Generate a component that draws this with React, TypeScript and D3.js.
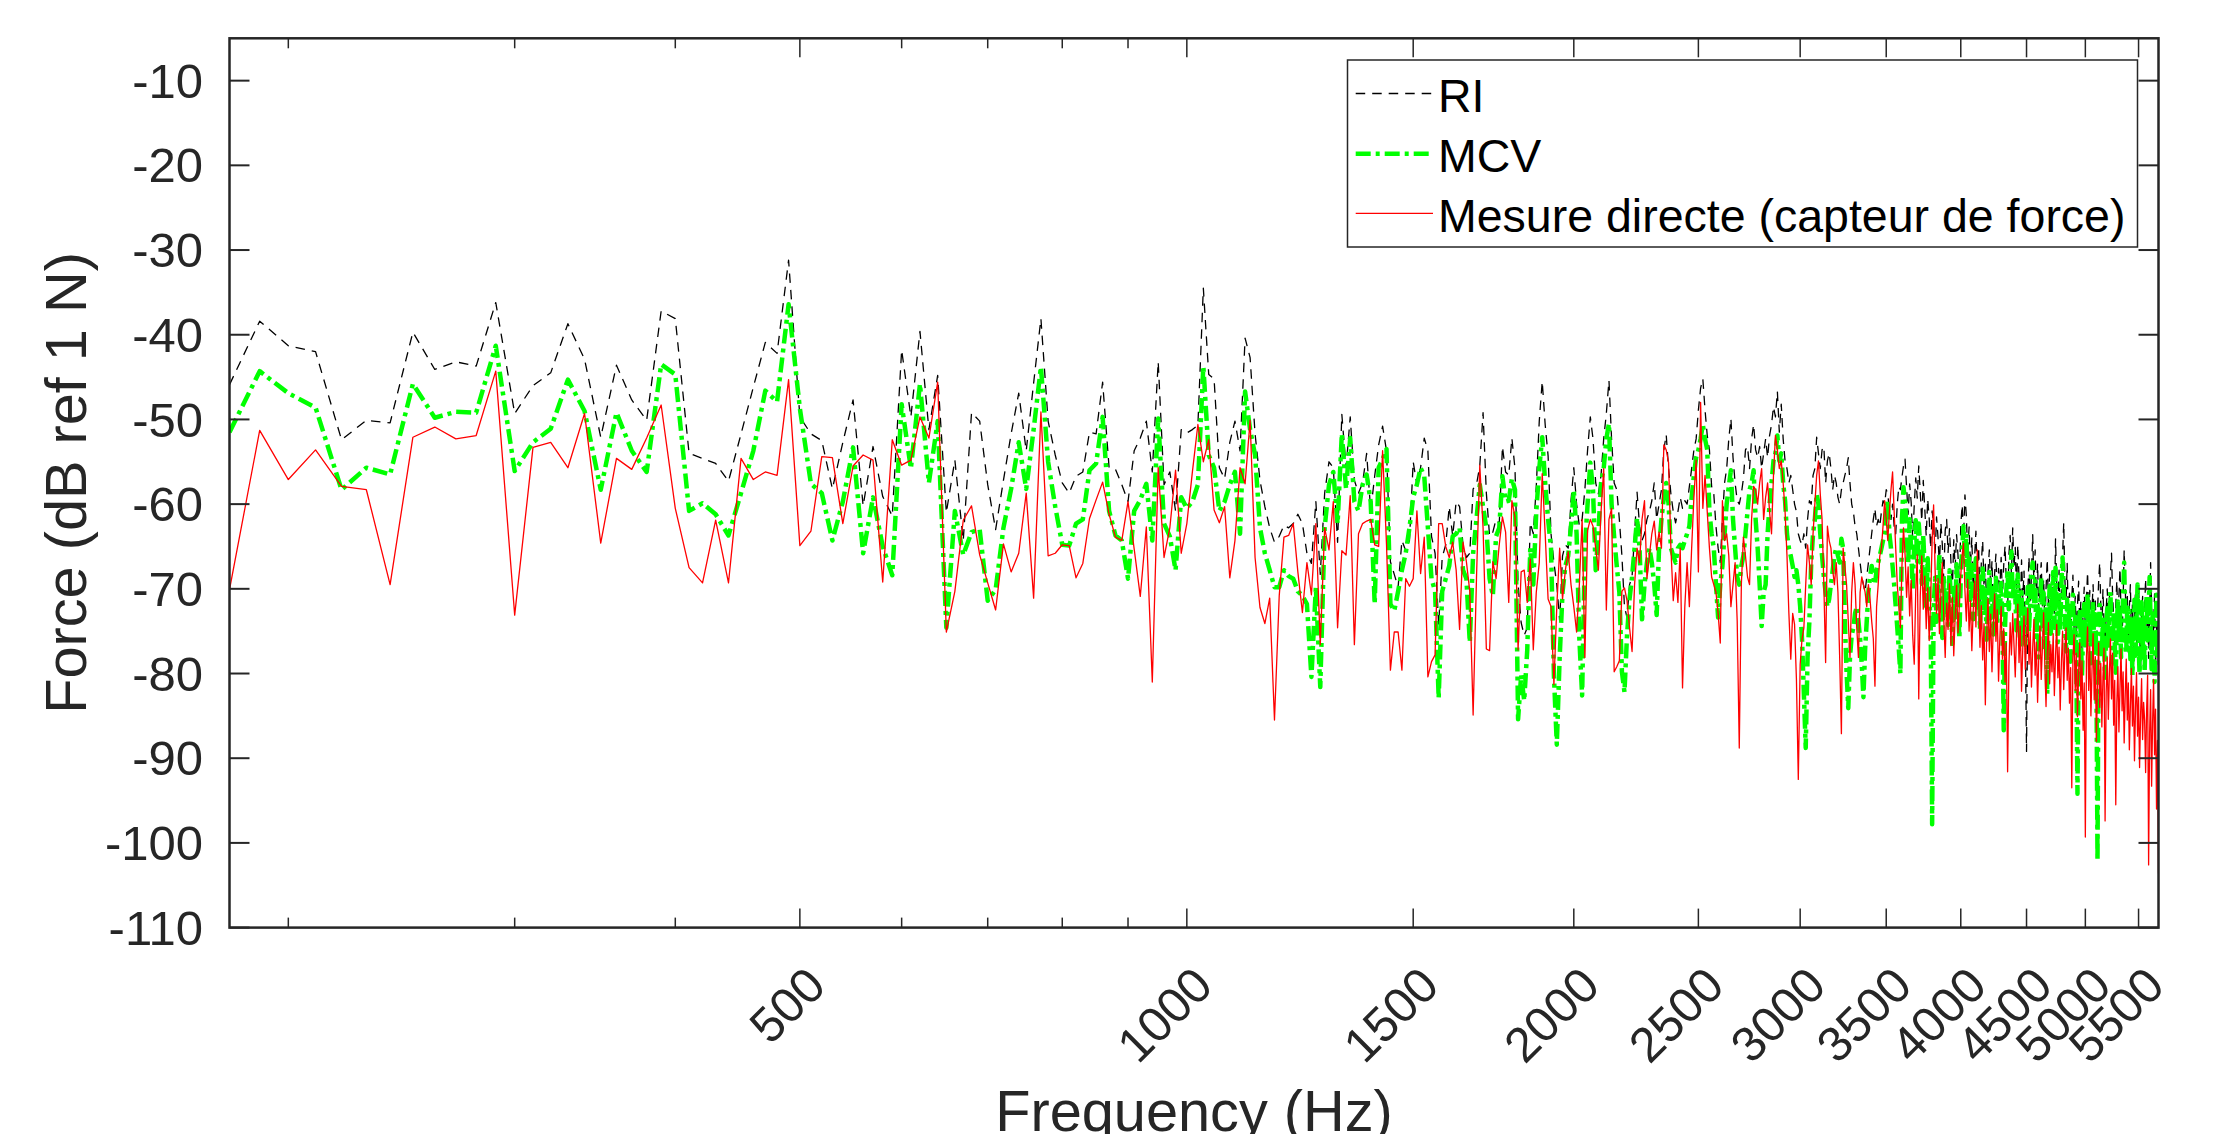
import React, { useEffect } from 'react';
import * as d3 from 'd3';

const W = 2223;
const H = 1134;

// Frequency grid (Hz): first sample and spacing of the spectra
const FREQ_START = 180;
const FREQ_STEP = 10;

// RI (black dashed), dB ref 1 N
const RI = [
  -45.9, -38.4, -41.3, -42.0, -52.4, -50.1, -50.4, -39.7, -44.1, -43.2,
  -43.7, -36.2, -49.3, -46.0, -44.5, -38.7, -42.9, -52.1, -43.6, -47.7,
  -50.1, -37.2, -38.1, -54.0, -54.6, -55.2, -57.3, -51.7, -46.2, -40.9,
  -42.2, -31.2, -49.7, -51.7, -52.5, -58.2, -52.7, -47.7, -60.2, -53.2,
  -59.1, -61.4, -41.8, -49.7, -39.6, -51.2, -44.8, -61.0, -54.8, -64.3,
  -49.2, -50.2, -57.7, -63.0, -57.2, -51.7, -46.9, -53.7, -45.7, -38.1,
  -50.2, -54.2, -57.5, -58.7, -56.7, -56.2, -51.5, -51.7, -45.6, -55.7,
  -55.9, -57.7, -59.7, -53.7, -52.2, -50.2, -56.2, -43.2,
  -57.7, -56.2, -60.8, -51.2, -51.6, -51.2, -50.7, -34.5, -44.7, -45.2,
  -55.7, -57.0, -52.7, -50.2, -53.7, -40.4, -42.7, -51.7, -57.2, -60.3,
  -62.8, -64.5, -63.8, -62.5, -62.8, -62.3, -61.2, -62.3, -65.8, -67.0,
  -59.7, -68.3, -58.7, -55.0, -55.7, -64.5, -49.4, -55.7, -49.7, -57.2,
  -58.7, -57.5, -54.0, -60.8, -56.7, -53.0, -50.8, -53.7, -66.8, -68.3,
  -69.8, -64.3, -65.5, -64.3, -55.0, -57.7, -55.7, -52.2, -53.7, -63.8,
  -65.8, -74.3, -66.3, -64.8, -60.3, -63.8, -59.7, -60.3, -64.8, -66.3,
  -65.8, -58.2, -57.7, -55.5, -49.2, -58.7, -63.8, -63.3, -61.8, -62.3,
  -53.2, -56.2,
  -56.6, -52.2, -55.8, -69.5, -74.0, -75.5, -74.6, -62.2, -63.5, -57.9,
  -50.2, -45.5, -50.6, -54.3, -63.5, -66.9, -69.5, -73.8, -66.1, -64.8,
  -65.2, -59.6, -55.7, -60.0, -62.6, -61.8, -58.3, -53.6, -49.7, -52.3,
  -57.5, -58.8, -56.6, -52.3, -49.3, -45.4, -52.3, -57.5, -58.3, -61.8,
  -66.1, -72.1, -73.4, -69.5, -68.6, -63.5, -58.6, -62.6, -64.3, -63.5,
  -61.8, -60.9, -59.6, -57.5, -61.8, -60.0, -58.3, -53.6, -51.8, -55.8,
  -58.8, -60.9, -62.2, -60.9, -59.2, -60.5, -59.6, -60.0, -57.9, -55.8,
  -53.6, -52.3, -48.9, -46.3, -45.2,
  -48.9, -51.9, -53.6, -57.9, -58.8, -62.6, -65.2, -66.9, -61.8, -57.5,
  -55.8, -52.3, -49.9, -54.5, -57.5, -59.6, -60.0, -58.8, -57.0, -53.6,
  -53.2, -55.8, -52.3, -50.6, -53.6, -54.5, -53.2, -55.8, -54.0, -52.3,
  -54.5, -51.9, -50.6, -48.5, -49.7, -46.7, -51.5, -48.2, -52.3, -54.9,
  -55.8, -57.5, -56.6, -58.3, -60.0, -60.9, -63.5, -64.3, -64.8, -63.5,
  -65.2, -61.8, -59.6, -60.0, -56.6, -55.8, -52.1, -54.0, -55.8, -53.6,
  -53.2, -57.5, -54.9, -54.0, -55.8, -58.3, -56.6, -57.5, -59.2, -60.0,
  -58.3, -57.5, -56.6, -55.8, -54.5, -57.5, -60.0, -60.9, -62.6, -63.5,
  -65.2, -66.9, -68.6, -69.5, -70.4, -68.6, -66.9, -65.2, -63.5, -61.8,
  -60.5, -62.6, -61.8, -62.6, -60.9, -59.6, -60.0, -58.3, -58.8, -60.9,
  -61.8, -60.0, -62.6, -63.5, -60.0, -57.9, -58.3, -56.8,
  -55.5, -54.7, -58.0, -61.2, -57.6, -59.8, -64.1, -60.2, -56.9, -59.3,
  -55.5, -58.6, -62.0, -57.2, -60.5, -63.8, -59.4, -61.7, -65.2, -60.8,
  -62.4, -66.1, -61.5, -63.9, -67.4, -62.2, -64.8, -68.9, -63.1, -61.8,
  -65.7, -62.9, -66.8, -70.3, -64.2, -67.5, -63.6, -66.0, -69.4, -62.5,
  -60.1, -63.8, -58.9, -61.4, -65.9, -62.7, -67.3, -64.0, -70.2, -66.4,
  -63.2, -68.5, -65.1, -71.6, -66.9, -64.3, -69.8, -67.1, -72.4, -68.0,
  -65.4, -70.1, -66.7, -73.0, -68.2, -65.9, -71.4, -67.6, -69.9, -66.3,
  -70.8, -67.2, -64.9, -69.3, -72.6, -66.0, -63.7, -68.4, -62.8, -67.5,
  -65.1, -70.4, -64.8, -68.7, -73.1, -66.6, -71.0, -67.9, -75.3, -89.2,
  -70.6, -66.2, -72.8, -68.1, -63.6, -69.7, -65.4, -71.3, -67.0, -73.5,
  -69.2, -66.9, -72.1, -68.8, -74.6, -70.0, -66.5, -71.9, -68.3, -75.0,
  -70.7, -67.4, -73.3, -64.1, -69.6, -72.5, -67.8, -74.1, -70.3, -66.2,
  -62.2, -68.9, -71.8, -67.0, -73.9, -70.5, -76.2, -71.1, -68.4, -74.7,
  -70.9, -75.8, -72.0, -69.1, -74.4, -71.5, -77.3, -72.6, -69.8, -75.1,
  -71.2, -68.0, -73.6, -70.2, -76.4, -72.3, -69.5, -74.8, -71.0, -77.6,
  -72.7, -69.3, -66.9, -71.8, -75.2, -70.1, -73.9, -78.4, -72.5, -70.0,
  -74.6, -71.3, -68.2, -65.8, -70.7, -73.4, -76.8, -71.9, -69.0, -74.2,
  -70.8, -67.6, -72.9, -76.1, -71.4, -65.4, -69.7, -74.0, -70.5, -77.5,
  -72.2, -69.5, -75.6, -71.7, -78.9, -73.0, -70.3, -76.7, -72.8, -69.5,
  -74.3, -79.6, -73.5, -70.9, -77.1, -72.4, -68.8, -75.9, -71.3, -78.2,
  -73.1, -66.9, -72.0, -77.8, -74.5, -70.6, -79.3, -75.0, -72.7, -80.4,
];

// MCV (green dash-dot), dB ref 1 N
const MCV = [
  -51.5, -44.3, -46.9, -48.6, -58.3, -55.7, -56.5, -45.8, -49.8, -49.1,
  -49.2, -41.3, -56.1, -52.7, -51.1, -45.3, -49.0, -58.3, -49.2, -53.7,
  -56.2, -43.5, -44.7, -60.8, -59.9, -61.2, -63.7, -58.7, -53.7, -46.6,
  -47.9, -36.4, -48.7, -57.6, -58.7, -64.3, -59.7, -53.3, -65.8, -59.2,
  -65.0, -68.4, -48.2, -55.8, -45.8, -57.5, -50.2, -74.6, -60.8, -66.0,
  -63.3, -63.0, -71.4, -70.1, -62.8, -58.2, -52.7, -58.2, -51.2, -43.8,
  -55.0, -60.3, -64.8, -64.9, -62.3, -61.8, -56.0, -55.2, -49.7, -60.8,
  -63.7, -64.3, -68.8, -60.8, -59.5, -57.6, -64.3, -49.9,
  -62.3, -63.8, -67.8, -59.2, -60.5, -59.7, -57.7, -43.7, -54.2, -55.7,
  -60.8, -59.7, -57.7, -56.2, -63.5, -46.7, -51.2, -54.2, -62.8, -65.8,
  -67.8, -69.8, -69.8, -67.8, -68.5, -68.8, -70.3, -70.8, -71.8, -80.4,
  -69.8, -81.6, -62.8, -57.7, -56.2, -62.3, -51.7, -58.2, -52.2, -59.7,
  -60.8, -57.7, -56.5, -59.7, -71.8, -55.7, -54.7, -53.5, -71.8, -72.6,
  -70.3, -67.8, -65.8, -62.8, -59.2, -57.7, -55.7, -56.7, -62.8, -68.8,
  -70.3, -82.9, -70.3, -68.8, -67.3, -63.8, -63.5, -62.8, -67.8, -68.8,
  -76.3, -65.8, -61.8, -57.7, -60.3, -62.8, -68.8, -70.8, -63.8, -62.8,
  -56.7, -59.7,
  -59.6, -57.0, -58.3, -85.4, -80.2, -83.2, -77.2, -65.2, -69.5, -60.9,
  -55.8, -52.1, -57.5, -61.8, -65.2, -80.2, -88.4, -78.1, -70.4, -67.3,
  -66.1, -62.6, -58.3, -63.5, -75.9, -82.6, -65.2, -60.0, -55.1, -58.3,
  -67.8, -63.5, -57.5, -55.8, -52.3, -50.5, -60.0, -63.9, -67.3, -70.4,
  -79.8, -82.2, -75.5, -71.2, -68.6, -65.2, -61.6, -65.2, -73.6, -69.5,
  -66.9, -65.2, -66.9, -69.5, -73.1, -65.2, -61.8, -59.2, -57.5, -60.0,
  -65.2, -66.1, -66.9, -65.2, -64.8, -65.2, -64.3, -63.5, -62.6, -59.2,
  -56.6, -54.5, -53.6, -52.3, -50.6,
  -52.3, -53.6, -60.9, -63.5, -65.2, -69.5, -73.4, -69.5, -67.3, -63.5,
  -60.0, -57.9, -56.0, -61.8, -65.2, -68.6, -69.5, -67.3, -66.1, -63.5,
  -60.9, -58.3, -57.5, -56.0, -61.8, -65.2, -69.5, -74.4, -70.4, -69.5,
  -63.5, -60.0, -57.5, -54.9, -54.0, -51.9, -54.9, -54.0, -57.5, -59.6,
  -63.5, -65.2, -66.1, -67.3, -68.6, -67.8, -69.5, -72.1, -75.9, -82.4,
  -88.8, -78.1, -73.8, -66.9, -63.5, -61.8, -58.8, -60.0, -63.5, -66.1,
  -68.6, -70.4, -72.1, -71.2, -69.5, -67.8, -66.1, -65.2, -66.1, -66.9,
  -64.1, -65.2, -73.8, -79.8, -84.1, -78.1, -75.5, -74.6, -72.9, -72.1,
  -73.8, -75.9, -79.0, -82.8, -77.2, -73.8, -70.4, -68.6, -67.3, -68.6,
  -69.5, -67.8, -66.9, -66.1, -65.2, -64.3, -63.5, -60.9, -59.6, -63.5,
  -65.2, -67.3, -69.5, -72.1, -74.6, -77.2, -80.0, -61.8,
  -58.0, -59.6, -63.4, -67.1, -61.8, -65.5, -70.2, -64.7, -61.9, -66.8,
  -62.3, -64.9, -69.4, -63.6, -67.9, -72.1, -66.4, -70.8, -74.0, -97.8,
  -72.5, -68.7, -73.9, -69.2, -66.0, -71.6, -75.8, -68.4, -72.7, -70.1,
  -74.3, -67.8, -71.2, -76.5, -69.9, -73.4, -67.1, -72.0, -75.9, -68.6,
  -65.4, -62.6, -66.8, -63.5, -69.7, -65.9, -71.3, -67.2, -73.6, -69.0,
  -66.4, -72.2, -68.5, -74.8, -70.3, -67.6, -73.1, -69.8, -76.0, -71.4,
  -68.0, -73.5, -69.9, -75.4, -71.1, -68.7, -74.2, -70.6, -72.8, -69.3,
  -73.7, -86.7, -74.5, -70.2, -67.8, -72.4, -69.0, -65.6, -71.3, -68.9,
  -70.7, -74.9, -68.3, -72.6, -77.0, -70.4, -74.8, -71.9, -76.6, -73.2,
  -69.8, -75.1, -71.4, -68.0, -66.9, -72.3, -69.1, -75.7, -71.6, -78.1,
  -73.0, -68.6, -74.4, -70.5, -76.9, -72.1, -82.4, -73.8, -69.7, -75.3,
  -71.0, -68.0, -74.6, -67.5, -72.2, -76.3, -70.8, -74.9, -69.4, -66.3,
  -70.2, -73.9, -77.4, -71.3, -75.8, -72.0, -78.6, -74.1, -70.7, -76.2,
  -73.3, -79.1, -94.2, -77.5, -72.4, -75.9, -80.3, -74.6, -71.8, -77.0,
  -73.9, -70.6, -76.4, -72.7, -78.8, -74.3, -71.5, -77.2, -73.0, -79.4,
  -102.1, -75.6, -71.9, -74.5, -78.0, -73.2, -76.7, -80.5, -74.8, -72.3,
  -77.1, -73.6, -70.4, -75.0, -78.7, -72.8, -76.3, -79.9, -74.2, -71.5,
  -76.0, -72.5, -78.1, -74.7, -70.9, -66.9, -73.4, -77.6, -71.7, -75.9,
  -72.6, -78.3, -74.0, -80.2, -75.5, -71.3, -77.9, -73.7, -69.5, -76.4,
  -80.0, -74.9, -71.6, -77.7, -73.4, -79.8, -75.2, -70.8, -76.1, -72.7,
  -68.6, -74.1, -79.5, -72.9, -77.3, -81.0, -74.6, -70.7, -78.2, -75.0,
];

// Mesure directe (red solid), dB ref 1 N
const MESURE = [
  -70.1, -51.3, -57.1, -53.6, -57.9, -58.3, -69.5, -52.1, -50.9, -52.3,
  -51.9, -44.3, -73.1, -53.3, -52.7, -55.7, -49.3, -64.6, -54.6, -55.9,
  -52.2, -48.3, -60.5, -67.5, -69.3, -61.9, -69.3, -54.6, -57.1, -56.2,
  -56.6, -45.3, -64.9, -63.2, -54.4, -54.5, -62.3, -55.5, -54.2, -54.8,
  -69.2, -52.4, -55.4, -54.8, -49.7, -52.2, -45.6, -75.1, -70.3, -61.9,
  -60.2, -66.0, -69.3, -72.5, -64.7, -68.0, -65.8, -58.7, -71.1, -49.1,
  -66.1, -65.8, -64.8, -64.9, -68.7, -67.0, -61.7, -59.5, -57.4, -61.2,
  -63.9, -64.3, -59.7, -65.3, -70.9, -62.7, -81.0, -55.7,
  -66.3, -62.8, -56.0, -65.8, -62.3, -56.2, -50.6, -55.0, -52.4, -60.7,
  -62.2, -60.3, -68.7, -64.3, -55.7, -57.6, -50.1, -66.3, -72.2, -74.1,
  -71.1, -85.5, -70.8, -63.9, -63.7, -62.3, -68.0, -72.8, -66.9, -70.7,
  -62.3, -76.6, -62.8, -65.4, -59.7, -74.6, -65.5, -66.0, -59.0, -76.6,
  -63.5, -62.3, -62.0, -61.8, -64.8, -65.0, -53.7, -64.8, -79.6, -75.1,
  -75.1, -79.6, -68.8, -69.7, -68.8, -60.8, -68.2, -63.9, -80.4, -78.6,
  -77.8, -62.3, -62.3, -65.0, -66.3, -64.5, -67.8, -74.8, -64.5, -66.8,
  -70.3, -84.9, -68.8, -55.4, -62.8, -77.1, -77.3, -66.8, -68.8, -64.8,
  -61.5, -63.3,
  -71.6, -59.6, -61.5, -77.2, -68.0, -67.8, -71.6, -66.5, -77.2, -70.4,
  -66.9, -56.4, -63.5, -71.2, -72.1, -81.3, -72.1, -65.2, -71.2, -67.8,
  -65.6, -69.5, -72.1, -75.1, -69.5, -61.8, -78.1, -63.1, -61.8, -62.6,
  -65.2, -67.8, -60.9, -55.8, -72.5, -61.8, -60.5, -79.8, -79.2, -78.5,
  -70.3, -69.9, -71.4, -74.6, -77.4, -69.5, -65.2, -66.9, -61.8, -59.6,
  -68.8, -66.1, -63.5, -62.0, -65.4, -63.3, -65.2, -53.0, -53.6, -55.1,
  -65.2, -71.4, -68.1, -71.6, -65.2, -81.7, -72.1, -66.9, -72.1, -65.2,
  -59.2, -54.8, -68.0, -48.0, -60.5,
  -56.6, -60.9, -65.2, -68.6, -69.5, -70.4, -72.9, -76.4, -59.6, -64.3,
  -63.5, -66.1, -72.1, -69.5, -66.9, -73.8, -88.8, -69.5, -63.9, -66.1,
  -68.6, -69.5, -61.8, -57.9, -58.3, -60.0, -57.5, -55.8, -61.8, -59.2,
  -57.5, -60.9, -63.5, -56.6, -51.9, -53.6, -55.8, -54.9, -57.5, -60.9,
  -66.1, -72.9, -78.3, -72.9, -74.2, -80.7, -92.5, -78.9, -75.9, -74.6,
  -69.5, -64.8, -66.9, -69.5, -63.5, -60.0, -56.6, -54.9, -58.8, -61.8,
  -69.5, -78.7, -62.6, -64.3, -65.2, -67.8, -69.5, -66.9, -70.4, -78.1,
  -87.1, -65.2, -67.3, -69.5, -73.8, -78.1, -70.4, -66.9, -69.5, -74.6,
  -78.1, -70.4, -68.6, -69.5, -70.4, -72.1, -69.5, -71.2, -73.8, -75.9,
  -81.5, -72.1, -69.5, -66.1, -65.2, -62.6, -59.6, -61.8, -64.3, -60.9,
  -58.3, -56.2, -60.9, -65.2, -69.5, -72.1, -74.6, -67.3,
  -62.8, -65.9, -71.0, -67.4, -73.2, -69.0, -75.5, -78.9, -70.3, -66.0,
  -83.0, -70.8, -66.1, -72.4, -68.5, -74.7, -69.9, -76.1, -71.2, -64.3,
  -60.1, -67.6, -72.9, -68.8, -75.3, -70.5, -66.9, -73.6, -78.1, -71.7,
  -74.8, -69.4, -76.7, -71.0, -77.9, -73.3, -69.6, -75.2, -71.9, -68.4,
  -66.0, -64.6, -70.2, -73.8, -68.9, -75.0, -71.4, -77.3, -72.6, -69.1,
  -74.5, -65.4, -70.8, -76.9, -72.0, -78.4, -74.1, -83.7, -75.6, -71.2,
  -77.4, -73.0, -79.8, -74.3, -70.6, -76.2, -72.5, -80.9, -75.8, -72.1,
  -78.3, -74.7, -81.0, -76.4, -91.6, -79.2, -74.0, -77.8, -72.9, -76.6,
  -80.4, -75.2, -71.8, -78.7, -74.4, -82.1, -76.9, -73.2, -79.5, -75.7,
  -72.3, -78.9, -75.1, -81.6, -77.0, -73.6, -80.2, -76.3, -83.4, -78.0,
  -74.4, -80.7, -76.8, -72.8, -79.1, -83.9, -77.5, -74.0, -81.2, -76.6,
  -79.8, -75.3, -82.6, -77.9, -74.2, -80.5, -76.9, -84.3, -78.7, -75.0,
  -81.9, -77.2, -74.6, -80.8, -77.0, -83.5, -79.3, -93.5, -78.1, -75.4,
  -82.0, -77.6, -85.1, -79.9, -76.4, -83.0, -78.5, -86.7, -81.1, -99.3,
  -78.0, -74.5, -82.0, -76.8, -85.0, -79.6, -75.3, -83.1, -78.0, -88.0,
  -81.3, -76.4, -84.0, -78.8, -86.3, -80.5, -77.0, -97.4, -82.2, -78.1,
  -85.4, -80.0, -75.9, -83.0, -77.6, -86.1, -80.8, -95.5, -83.5, -79.2,
  -86.9, -81.7, -77.1, -84.4, -79.8, -88.2, -82.6, -78.3, -85.5, -81.1,
  -89.0, -83.8, -79.4, -86.2, -81.5, -90.3, -84.1, -79.9, -87.4, -82.8,
  -91.1, -84.9, -80.6, -87.8, -83.4, -85.5, -91.7, -84.3, -80.2, -102.6,
  -87.1, -81.9, -93.3, -85.8, -80.7, -89.6, -84.2, -96.0, -87.9, -103.6,
];

const X_DOMAIN = [180, 5700];
const Y_DOMAIN = [-110, -5];
const X_TICKS = [500, 1000, 1500, 2000, 2500, 3000, 3500, 4000, 4500, 5000, 5500];
const X_MINOR = [200, 300, 400, 600, 700, 800, 900];
const Y_TICKS = [-110, -100, -90, -80, -70, -60, -50, -40, -30, -20, -10];
const X_LABEL = 'Frequency (Hz)';
const Y_LABEL = 'Force (dB ref 1 N)';
const SERIES_NAMES = ['RI', 'MCV', 'Mesure directe (capteur de force)'];

const FONT = "'Liberation Sans', Arial, Helvetica, sans-serif";
const AX = '#262626';

export default function App() {
  useEffect(() => {
    document.body.style.margin = '0';
    document.body.style.overflow = 'hidden';
  }, []);

  const left = 229.5, right = 2158.5, top = 38.3, bottom = 927.6;
  const x = d3.scaleLog().domain(X_DOMAIN).range([left, right]);
  const y = d3.scaleLinear().domain(Y_DOMAIN).range([bottom, top]);

  const mk = (arr: number[]) =>
    d3.line<number>()
      .x((_, i) => x(FREQ_START + i * FREQ_STEP))
      .y((d) => y(d))(arr) || '';

  const styles = [
    { data: RI, stroke: '#000000', width: 1.3, dash: '9.5 7' },
    { data: MCV, stroke: '#00ff00', width: 4.5, dash: '15 5 4 5' },
    { data: MESURE, stroke: '#ff0000', width: 1.3, dash: undefined as string | undefined },
  ];

  const legX = 1347.5, legY = 60, legW = 790, legH = 187;
  const legRows = [93.5, 153.7, 213.3];

  return (
    <svg width={W} height={H} viewBox={`0 0 ${W} ${H}`}
      style={{ position: 'absolute', left: 0, top: 0, background: '#fff' }}
      fontFamily={FONT}>
      <rect x={0} y={0} width={W} height={H} fill="#ffffff" />
      <defs>
        <clipPath id="plotclip">
          <rect x={left} y={top} width={right - left} height={bottom - top} />
        </clipPath>
      </defs>

      {/* series */}
      <g clipPath="url(#plotclip)" fill="none" strokeLinejoin="round">
        {styles.map((s, k) => (
          <path key={k} d={mk(s.data)} stroke={s.stroke} strokeWidth={s.width}
            strokeDasharray={s.dash} />
        ))}
      </g>

      {/* axes box */}
      <rect x={left} y={top} width={right - left} height={bottom - top}
        fill="none" stroke={AX} strokeWidth={2.5} />

      {/* x ticks */}
      {X_TICKS.map((t) => (
        <g key={'xt' + t}>
          <line x1={x(t)} x2={x(t)} y1={bottom} y2={bottom - 19} stroke={AX} strokeWidth={1.5} />
          <line x1={x(t)} x2={x(t)} y1={top} y2={top + 19} stroke={AX} strokeWidth={1.5} />
          <text transform={`translate(${x(t) + 16},${976}) rotate(-45)`} textAnchor="end"
            dy="0.35em" fontSize={49} fill={AX}>{t}</text>
        </g>
      ))}
      {X_MINOR.map((t) => (
        <g key={'xm' + t}>
          <line x1={x(t)} x2={x(t)} y1={bottom} y2={bottom - 10} stroke={AX} strokeWidth={1.5} />
          <line x1={x(t)} x2={x(t)} y1={top} y2={top + 10} stroke={AX} strokeWidth={1.5} />
        </g>
      ))}

      {/* y ticks */}
      {Y_TICKS.map((t) => (
        <g key={'yt' + t}>
          <line x1={left} x2={left + 20} y1={y(t)} y2={y(t)} stroke={AX} strokeWidth={2} />
          <line x1={right} x2={right - 20} y1={y(t)} y2={y(t)} stroke={AX} strokeWidth={2} />
          <text x={203} y={y(t)} dy="0.35em" textAnchor="end" fontSize={49} fill={AX}>{t}</text>
        </g>
      ))}

      {/* axis labels */}
      <text x={(left + right) / 2} y={1131} textAnchor="middle" fontSize={57.7} fill={AX}>{X_LABEL}</text>
      <text transform={`translate(86,${(top + bottom) / 2}) rotate(-90)`} textAnchor="middle"
        fontSize={57.7} fill={AX}>{Y_LABEL}</text>

      {/* legend */}
      <rect x={legX} y={legY} width={legW} height={legH} fill="#ffffff" stroke={AX} strokeWidth={1.5} />
      {styles.map((s, k) => (
        <g key={'lg' + k}>
          <line x1={1355.7} x2={1433} y1={legRows[k]} y2={legRows[k]} stroke={s.stroke}
            strokeWidth={s.width} strokeDasharray={s.dash} />
          <text x={1438} y={legRows[k] + 2} dy="0.35em" fontSize={46.5} fill="#000">{SERIES_NAMES[k]}</text>
        </g>
      ))}
    </svg>
  );
}
